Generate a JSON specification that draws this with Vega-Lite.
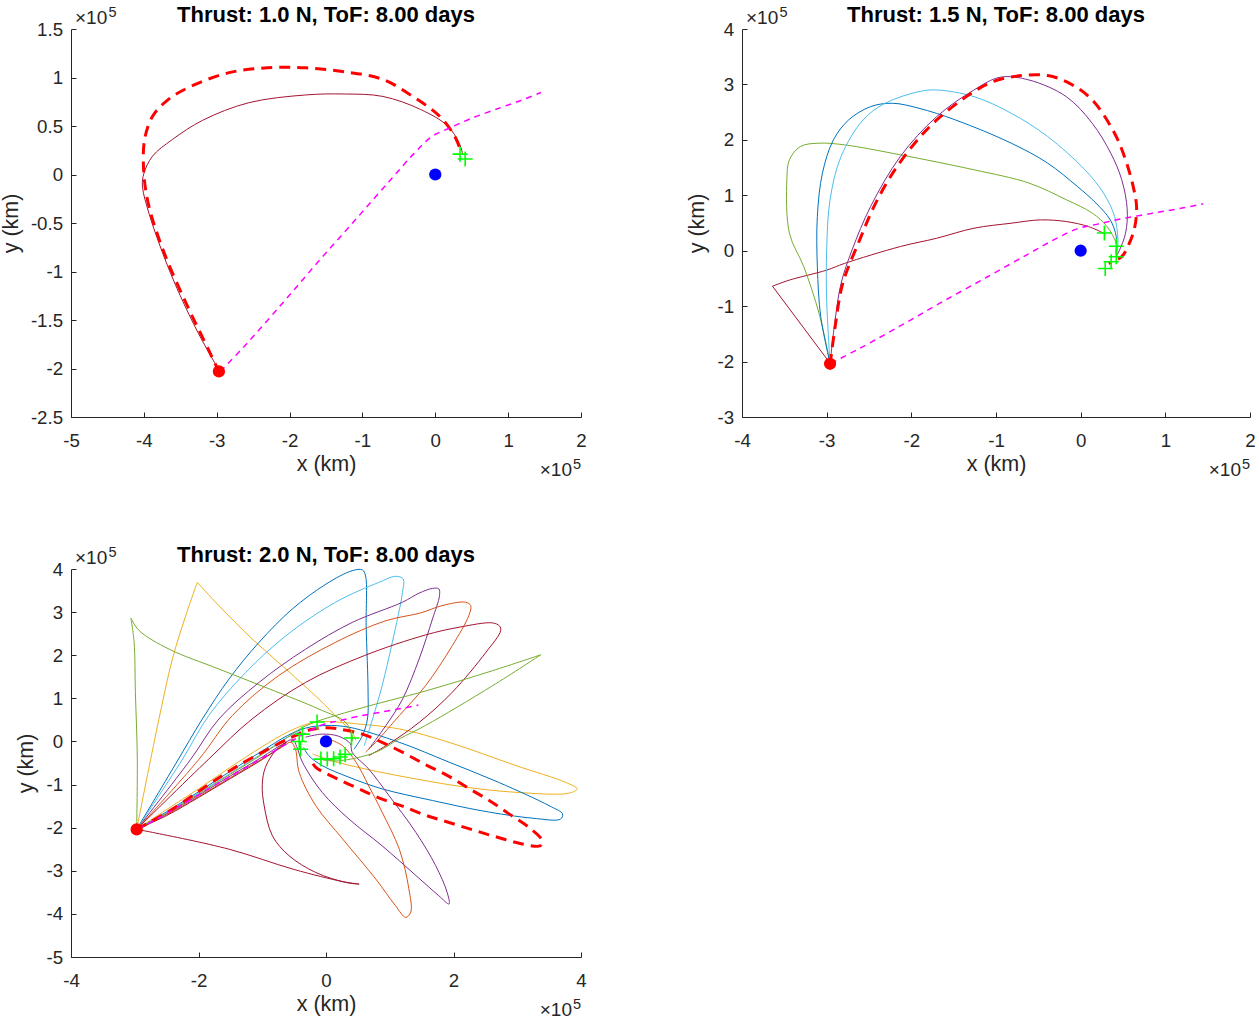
{
"$schema":"https://vega.github.io/schema/vega-lite/v6.json",
"background":"white",
"padding":{"left":0,"top":3,"right":5,"bottom":2},
"bounds":"flush",
"columns":2,
"spacing":{"row":152,"column":161},
"datasets":{
"lines":[
{"panel":1,"series":"g7","branch":"a","x":-2.96,"y":-2.03},{"panel":1,"series":"g7","branch":"a","x":-3.25,"y":-1.64},{"panel":1,"series":"g7","branch":"a","x":-3.5,"y":-1.25},{"panel":1,"series":"g7","branch":"a","x":-3.67,"y":-0.95},{"panel":1,"series":"g7","branch":"a","x":-3.82,"y":-0.65},{"panel":1,"series":"g7","branch":"a","x":-3.93,"y":-0.4},{"panel":1,"series":"g7","branch":"a","x":-4.02,"y":-0.12},{"panel":1,"series":"g7","branch":"a","x":-4.0,"y":0.01},{"panel":1,"series":"g7","branch":"a","x":-3.88,"y":0.19},{"panel":1,"series":"g7","branch":"a","x":-3.61,"y":0.36},{"panel":1,"series":"g7","branch":"a","x":-3.19,"y":0.56},{"panel":1,"series":"g7","branch":"a","x":-2.56,"y":0.74},{"panel":1,"series":"g7","branch":"a","x":-1.78,"y":0.82},{"panel":1,"series":"g7","branch":"a","x":-1.25,"y":0.83},{"panel":1,"series":"g7","branch":"a","x":-0.72,"y":0.805},{"panel":1,"series":"g7","branch":"a","x":-0.2,"y":0.67},{"panel":1,"series":"g7","branch":"a","x":0.17,"y":0.5},{"panel":1,"series":"g7","branch":"a","x":0.33,"y":0.32},{"panel":1,"series":"g7","branch":"a","x":0.38,"y":0.2},
{"panel":1,"series":"opt","branch":"a","x":-2.96,"y":-2.05},{"panel":1,"series":"opt","branch":"a","x":-3.11,"y":-1.81},{"panel":1,"series":"opt","branch":"a","x":-3.4,"y":-1.36},{"panel":1,"series":"opt","branch":"a","x":-3.72,"y":-0.81},{"panel":1,"series":"opt","branch":"a","x":-3.93,"y":-0.33},{"panel":1,"series":"opt","branch":"a","x":-4.0,"y":0.01},{"panel":1,"series":"opt","branch":"a","x":-3.99,"y":0.36},{"panel":1,"series":"opt","branch":"a","x":-3.88,"y":0.6},{"panel":1,"series":"opt","branch":"a","x":-3.67,"y":0.77},{"panel":1,"series":"opt","branch":"a","x":-3.35,"y":0.91},{"panel":1,"series":"opt","branch":"a","x":-2.83,"y":1.05},{"panel":1,"series":"opt","branch":"a","x":-2.3,"y":1.1},{"panel":1,"series":"opt","branch":"a","x":-1.78,"y":1.1},{"panel":1,"series":"opt","branch":"a","x":-1.25,"y":1.06},{"panel":1,"series":"opt","branch":"a","x":-0.72,"y":0.98},{"panel":1,"series":"opt","branch":"a","x":-0.3,"y":0.8},{"panel":1,"series":"opt","branch":"a","x":0.06,"y":0.6},{"panel":1,"series":"opt","branch":"a","x":0.27,"y":0.39},{"panel":1,"series":"opt","branch":"a","x":0.35,"y":0.24},
{"panel":1,"series":"moon","branch":"a","x":-2.95,"y":-2.03},{"panel":1,"series":"moon","branch":"a","x":-2.62,"y":-1.77},{"panel":1,"series":"moon","branch":"a","x":-2.1,"y":-1.33},{"panel":1,"series":"moon","branch":"a","x":-1.62,"y":-0.91},{"panel":1,"series":"moon","branch":"a","x":-1.1,"y":-0.47},{"panel":1,"series":"moon","branch":"a","x":-0.62,"y":-0.06},{"panel":1,"series":"moon","branch":"a","x":-0.3,"y":0.21},{"panel":1,"series":"moon","branch":"a","x":-0.05,"y":0.39},{"panel":1,"series":"moon","branch":"a","x":0.2,"y":0.48},{"panel":1,"series":"moon","branch":"a","x":0.5,"y":0.58},{"panel":1,"series":"moon","branch":"a","x":0.9,"y":0.69},{"panel":1,"series":"moon","branch":"a","x":1.2,"y":0.77},{"panel":1,"series":"moon","branch":"a","x":1.45,"y":0.845},

{"panel":2,"series":"g7","branch":"a","x":-2.96,"y":-2.03},{"panel":2,"series":"g7","branch":"a","x":-3.64,"y":-0.64},{"panel":2,"series":"g7","branch":"b","x":-3.64,"y":-0.64},{"panel":2,"series":"g7","branch":"b","x":-3.44,"y":-0.53},{"panel":2,"series":"g7","branch":"b","x":-3.0,"y":-0.35},{"panel":2,"series":"g7","branch":"b","x":-2.79,"y":-0.23},{"panel":2,"series":"g7","branch":"b","x":-2.13,"y":0.075},{"panel":2,"series":"g7","branch":"b","x":-1.7,"y":0.225},{"panel":2,"series":"g7","branch":"b","x":-1.26,"y":0.406},{"panel":2,"series":"g7","branch":"b","x":-0.82,"y":0.496},{"panel":2,"series":"g7","branch":"b","x":-0.475,"y":0.556},{"panel":2,"series":"g7","branch":"b","x":-0.17,"y":0.526},{"panel":2,"series":"g7","branch":"b","x":0.09,"y":0.436},{"panel":2,"series":"g7","branch":"b","x":0.267,"y":0.316},{"panel":2,"series":"g7","branch":"b","x":0.29,"y":0.285},
{"panel":2,"series":"g5","branch":"a","x":-2.96,"y":-2.03},{"panel":2,"series":"g5","branch":"a","x":-3.09,"y":-1.13},{"panel":2,"series":"g5","branch":"a","x":-3.27,"y":-0.29},{"panel":2,"series":"g5","branch":"a","x":-3.44,"y":0.316},{"panel":2,"series":"g5","branch":"a","x":-3.47,"y":1.28},{"panel":2,"series":"g5","branch":"a","x":-3.44,"y":1.64},{"panel":2,"series":"g5","branch":"a","x":-3.31,"y":1.88},{"panel":2,"series":"g5","branch":"a","x":-3.09,"y":1.94},{"panel":2,"series":"g5","branch":"a","x":-2.79,"y":1.91},{"panel":2,"series":"g5","branch":"a","x":-2.13,"y":1.73},{"panel":2,"series":"g5","branch":"a","x":-1.26,"y":1.46},{"panel":2,"series":"g5","branch":"a","x":-0.61,"y":1.22},{"panel":2,"series":"g5","branch":"a","x":-0.17,"y":0.92},{"panel":2,"series":"g5","branch":"a","x":0.136,"y":0.68},{"panel":2,"series":"g5","branch":"a","x":0.31,"y":0.44},{"panel":2,"series":"g5","branch":"a","x":0.42,"y":0.135},{"panel":2,"series":"g5","branch":"a","x":0.43,"y":0.045},
{"panel":2,"series":"g1","branch":"a","x":-2.96,"y":-2.03},{"panel":2,"series":"g1","branch":"a","x":-3.07,"y":-1.19},{"panel":2,"series":"g1","branch":"a","x":-3.11,"y":-0.29},{"panel":2,"series":"g1","branch":"a","x":-3.11,"y":0.62},{"panel":2,"series":"g1","branch":"a","x":-3.05,"y":1.4},{"panel":2,"series":"g1","branch":"a","x":-2.92,"y":2.0},{"panel":2,"series":"g1","branch":"a","x":-2.74,"y":2.36},{"panel":2,"series":"g1","branch":"a","x":-2.48,"y":2.6},{"panel":2,"series":"g1","branch":"a","x":-2.22,"y":2.66},{"panel":2,"series":"g1","branch":"a","x":-1.91,"y":2.57},{"panel":2,"series":"g1","branch":"a","x":-1.48,"y":2.36},{"panel":2,"series":"g1","branch":"a","x":-0.82,"y":1.94},{"panel":2,"series":"g1","branch":"a","x":-0.39,"y":1.58},{"panel":2,"series":"g1","branch":"a","x":-0.04,"y":1.16},{"panel":2,"series":"g1","branch":"a","x":0.18,"y":0.86},{"panel":2,"series":"g1","branch":"a","x":0.35,"y":0.556},{"panel":2,"series":"g1","branch":"a","x":0.42,"y":0.255},{"panel":2,"series":"g1","branch":"a","x":0.42,"y":-0.045},
{"panel":2,"series":"g6","branch":"a","x":-2.96,"y":-2.03},{"panel":2,"series":"g6","branch":"a","x":-3.0,"y":-0.89},{"panel":2,"series":"g6","branch":"a","x":-3.0,"y":0.015},{"panel":2,"series":"g6","branch":"a","x":-2.96,"y":0.92},{"panel":2,"series":"g6","branch":"a","x":-2.83,"y":1.7},{"panel":2,"series":"g6","branch":"a","x":-2.57,"y":2.36},{"panel":2,"series":"g6","branch":"a","x":-2.31,"y":2.66},{"panel":2,"series":"g6","branch":"a","x":-1.91,"y":2.87},{"panel":2,"series":"g6","branch":"a","x":-1.7,"y":2.9},{"panel":2,"series":"g6","branch":"a","x":-1.26,"y":2.78},{"panel":2,"series":"g6","branch":"a","x":-0.82,"y":2.48},{"panel":2,"series":"g6","branch":"a","x":-0.39,"y":2.06},{"panel":2,"series":"g6","branch":"a","x":0.05,"y":1.46},{"panel":2,"series":"g6","branch":"a","x":0.27,"y":1.04},{"panel":2,"series":"g6","branch":"a","x":0.4,"y":0.62},{"panel":2,"series":"g6","branch":"a","x":0.44,"y":0.195},{"panel":2,"series":"g6","branch":"a","x":0.43,"y":-0.045},
{"panel":2,"series":"g4","branch":"a","x":-2.96,"y":-2.03},{"panel":2,"series":"g4","branch":"a","x":-2.9,"y":-1.25},{"panel":2,"series":"g4","branch":"a","x":-2.83,"y":-0.59},{"panel":2,"series":"g4","branch":"a","x":-2.7,"y":0.014},{"panel":2,"series":"g4","branch":"a","x":-2.48,"y":0.8},{"panel":2,"series":"g4","branch":"a","x":-2.13,"y":1.7},{"panel":2,"series":"g4","branch":"a","x":-1.7,"y":2.42},{"panel":2,"series":"g4","branch":"a","x":-1.26,"y":2.9},{"panel":2,"series":"g4","branch":"a","x":-0.95,"y":3.13},{"panel":2,"series":"g4","branch":"a","x":-0.61,"y":3.08},{"panel":2,"series":"g4","branch":"a","x":-0.17,"y":2.78},{"panel":2,"series":"g4","branch":"a","x":0.136,"y":2.3},{"panel":2,"series":"g4","branch":"a","x":0.355,"y":1.76},{"panel":2,"series":"g4","branch":"a","x":0.485,"y":1.28},{"panel":2,"series":"g4","branch":"a","x":0.55,"y":0.74},{"panel":2,"series":"g4","branch":"a","x":0.53,"y":0.316},{"panel":2,"series":"g4","branch":"a","x":0.46,"y":0.015},{"panel":2,"series":"g4","branch":"a","x":0.42,"y":-0.106},
{"panel":2,"series":"opt","branch":"a","x":-2.96,"y":-2.06},{"panel":2,"series":"opt","branch":"a","x":-2.9,"y":-1.37},{"panel":2,"series":"opt","branch":"a","x":-2.81,"y":-0.59},{"panel":2,"series":"opt","branch":"a","x":-2.61,"y":0.195},{"panel":2,"series":"opt","branch":"a","x":-2.44,"y":0.8},{"panel":2,"series":"opt","branch":"a","x":-2.22,"y":1.4},{"panel":2,"series":"opt","branch":"a","x":-1.96,"y":1.94},{"panel":2,"series":"opt","branch":"a","x":-1.7,"y":2.36},{"panel":2,"series":"opt","branch":"a","x":-1.35,"y":2.78},{"panel":2,"series":"opt","branch":"a","x":-1.04,"y":3.05},{"panel":2,"series":"opt","branch":"a","x":-0.7,"y":3.16},{"panel":2,"series":"opt","branch":"a","x":-0.39,"y":3.16},{"panel":2,"series":"opt","branch":"a","x":-0.13,"y":3.02},{"panel":2,"series":"opt","branch":"a","x":0.136,"y":2.72},{"panel":2,"series":"opt","branch":"a","x":0.4,"y":2.12},{"panel":2,"series":"opt","branch":"a","x":0.53,"y":1.64},{"panel":2,"series":"opt","branch":"a","x":0.62,"y":1.16},{"panel":2,"series":"opt","branch":"a","x":0.66,"y":0.8},{"panel":2,"series":"opt","branch":"a","x":0.64,"y":0.436},{"panel":2,"series":"opt","branch":"a","x":0.575,"y":0.135},{"panel":2,"series":"opt","branch":"a","x":0.485,"y":-0.106},{"panel":2,"series":"opt","branch":"a","x":0.33,"y":-0.226},
{"panel":2,"series":"moon","branch":"a","x":-2.95,"y":-2.03},{"panel":2,"series":"moon","branch":"a","x":-2.62,"y":-1.77},{"panel":2,"series":"moon","branch":"a","x":-2.1,"y":-1.33},{"panel":2,"series":"moon","branch":"a","x":-1.62,"y":-0.91},{"panel":2,"series":"moon","branch":"a","x":-1.1,"y":-0.47},{"panel":2,"series":"moon","branch":"a","x":-0.62,"y":-0.06},{"panel":2,"series":"moon","branch":"a","x":-0.3,"y":0.21},{"panel":2,"series":"moon","branch":"a","x":-0.05,"y":0.39},{"panel":2,"series":"moon","branch":"a","x":0.2,"y":0.48},{"panel":2,"series":"moon","branch":"a","x":0.5,"y":0.58},{"panel":2,"series":"moon","branch":"a","x":0.9,"y":0.69},{"panel":2,"series":"moon","branch":"a","x":1.2,"y":0.77},{"panel":2,"series":"moon","branch":"a","x":1.45,"y":0.845},

{"panel":3,"series":"g3","branch":"a","x":-2.97,"y":-2.04},{"panel":3,"series":"g3","branch":"a","x":-2.75,"y":-0.41},{"panel":3,"series":"g3","branch":"a","x":-2.58,"y":0.8},{"panel":3,"series":"g3","branch":"a","x":-2.41,"y":1.91},{"panel":3,"series":"g3","branch":"a","x":-2.2,"y":2.92},{"panel":3,"series":"g3","branch":"a","x":-2.02,"y":3.69},{"panel":3,"series":"g3","branch":"c","x":-2.02,"y":3.69},{"panel":3,"series":"g3","branch":"c","x":-1.68,"y":3.15},{"panel":3,"series":"g3","branch":"c","x":-1.16,"y":2.38},{"panel":3,"series":"g3","branch":"c","x":-0.63,"y":1.68},{"panel":3,"series":"g3","branch":"c","x":-0.11,"y":0.98},{"panel":3,"series":"g3","branch":"c","x":0.2,"y":0.52},{"panel":3,"series":"g3","branch":"c","x":0.41,"y":0.21},{"panel":3,"series":"g3","branch":"c","x":0.47,"y":0.02},
{"panel":3,"series":"g3","branch":"b","x":-2.97,"y":-2.04},{"panel":3,"series":"g3","branch":"b","x":-2.5,"y":-1.58},{"panel":3,"series":"g3","branch":"b","x":-2.0,"y":-1.1},{"panel":3,"series":"g3","branch":"b","x":-1.5,"y":-0.6},{"panel":3,"series":"g3","branch":"b","x":-1.0,"y":-0.12},{"panel":3,"series":"g3","branch":"b","x":-0.6,"y":0.22},{"panel":3,"series":"g3","branch":"b","x":-0.3,"y":0.4},{"panel":3,"series":"g3","branch":"b","x":-0.06,"y":0.46},{"panel":3,"series":"g3","branch":"b","x":0.47,"y":0.41},{"panel":3,"series":"g3","branch":"b","x":1.15,"y":0.29},{"panel":3,"series":"g3","branch":"b","x":1.93,"y":-0.02},{"panel":3,"series":"g3","branch":"b","x":2.98,"y":-0.56},{"panel":3,"series":"g3","branch":"b","x":3.76,"y":-0.95},{"panel":3,"series":"g3","branch":"b","x":3.94,"y":-1.1},{"panel":3,"series":"g3","branch":"b","x":3.81,"y":-1.2},{"panel":3,"series":"g3","branch":"b","x":2.98,"y":-1.18},{"panel":3,"series":"g3","branch":"b","x":2.19,"y":-1.06},{"panel":3,"series":"g3","branch":"b","x":1.41,"y":-0.87},{"panel":3,"series":"g3","branch":"b","x":0.62,"y":-0.64},{"panel":3,"series":"g3","branch":"b","x":0.1,"y":-0.45},{"panel":3,"series":"g3","branch":"b","x":-0.21,"y":-0.29},
{"panel":3,"series":"g1","branch":"a","x":-2.97,"y":-2.04},{"panel":3,"series":"g1","branch":"a","x":-2.35,"y":-0.5},{"panel":3,"series":"g1","branch":"a","x":-1.94,"y":0.52},{"panel":3,"series":"g1","branch":"a","x":-1.52,"y":1.45},{"panel":3,"series":"g1","branch":"a","x":-1.05,"y":2.3},{"panel":3,"series":"g1","branch":"a","x":-0.53,"y":3.07},{"panel":3,"series":"g1","branch":"a","x":0.0,"y":3.65},{"panel":3,"series":"g1","branch":"a","x":0.41,"y":3.96},{"panel":3,"series":"g1","branch":"a","x":0.57,"y":3.98},{"panel":3,"series":"g1","branch":"a","x":0.62,"y":3.84},{"panel":3,"series":"g1","branch":"a","x":0.63,"y":2.68},{"panel":3,"series":"g1","branch":"a","x":0.66,"y":1.14},{"panel":3,"series":"g1","branch":"a","x":0.65,"y":0.52},{"panel":3,"series":"g1","branch":"a","x":0.57,"y":0.13},{"panel":3,"series":"g1","branch":"a","x":0.44,"y":-0.18},
{"panel":3,"series":"g1","branch":"b","x":-2.97,"y":-2.04},{"panel":3,"series":"g1","branch":"b","x":-2.5,"y":-1.63},{"panel":3,"series":"g1","branch":"b","x":-2.0,"y":-1.17},{"panel":3,"series":"g1","branch":"b","x":-1.5,"y":-0.69},{"panel":3,"series":"g1","branch":"b","x":-1.0,"y":-0.22},{"panel":3,"series":"g1","branch":"b","x":-0.6,"y":0.14},{"panel":3,"series":"g1","branch":"b","x":-0.32,"y":0.31},{"panel":3,"series":"g1","branch":"b","x":0.0,"y":0.37},{"panel":3,"series":"g1","branch":"b","x":0.36,"y":0.33},{"panel":3,"series":"g1","branch":"b","x":1.15,"y":-0.02},{"panel":3,"series":"g1","branch":"b","x":1.93,"y":-0.48},{"panel":3,"series":"g1","branch":"b","x":2.71,"y":-0.95},{"panel":3,"series":"g1","branch":"b","x":3.5,"y":-1.49},{"panel":3,"series":"g1","branch":"b","x":3.71,"y":-1.68},{"panel":3,"series":"g1","branch":"b","x":3.68,"y":-1.8},{"panel":3,"series":"g1","branch":"b","x":3.24,"y":-1.78},{"panel":3,"series":"g1","branch":"b","x":2.45,"y":-1.61},{"panel":3,"series":"g1","branch":"b","x":1.67,"y":-1.37},{"panel":3,"series":"g1","branch":"b","x":0.88,"y":-1.1},{"panel":3,"series":"g1","branch":"b","x":0.36,"y":-0.83},{"panel":3,"series":"g1","branch":"b","x":-0.06,"y":-0.56},{"panel":3,"series":"g1","branch":"b","x":-0.27,"y":-0.33},{"panel":3,"series":"g1","branch":"b","x":-0.35,"y":-0.14},
{"panel":3,"series":"g6","branch":"a","x":-2.97,"y":-2.04},{"panel":3,"series":"g6","branch":"a","x":-2.25,"y":-0.41},{"panel":3,"series":"g6","branch":"a","x":-1.84,"y":0.6},{"panel":3,"series":"g6","branch":"a","x":-1.26,"y":1.6},{"panel":3,"series":"g6","branch":"a","x":-0.63,"y":2.45},{"panel":3,"series":"g6","branch":"a","x":0.15,"y":3.23},{"panel":3,"series":"g6","branch":"a","x":0.83,"y":3.69},{"panel":3,"series":"g6","branch":"a","x":1.09,"y":3.83},{"panel":3,"series":"g6","branch":"a","x":1.21,"y":3.77},{"panel":3,"series":"g6","branch":"a","x":1.2,"y":3.46},{"panel":3,"series":"g6","branch":"a","x":1.04,"y":2.3},{"panel":3,"series":"g6","branch":"a","x":0.88,"y":1.29},{"panel":3,"series":"g6","branch":"a","x":0.73,"y":0.52},{"panel":3,"series":"g6","branch":"a","x":0.6,"y":-0.1},
{"panel":3,"series":"g6","branch":"b","x":-2.97,"y":-2.04},{"panel":3,"series":"g6","branch":"b","x":-2.5,"y":-1.65},{"panel":3,"series":"g6","branch":"b","x":-2.0,"y":-1.2},{"panel":3,"series":"g6","branch":"b","x":-1.5,"y":-0.74},{"panel":3,"series":"g6","branch":"b","x":-1.0,"y":-0.28},{"panel":3,"series":"g6","branch":"b","x":-0.6,"y":0.1},{"panel":3,"series":"g6","branch":"b","x":-0.4,"y":0.24},
{"panel":3,"series":"g4","branch":"a","x":-2.97,"y":-2.04},{"panel":3,"series":"g4","branch":"a","x":-2.12,"y":-0.41},{"panel":3,"series":"g4","branch":"a","x":-1.68,"y":0.52},{"panel":3,"series":"g4","branch":"a","x":-1.05,"y":1.37},{"panel":3,"series":"g4","branch":"a","x":-0.32,"y":2.14},{"panel":3,"series":"g4","branch":"a","x":0.41,"y":2.76},{"panel":3,"series":"g4","branch":"a","x":1.2,"y":3.23},{"panel":3,"series":"g4","branch":"a","x":1.46,"y":3.44},{"panel":3,"series":"g4","branch":"a","x":1.67,"y":3.55},{"panel":3,"series":"g4","branch":"a","x":1.77,"y":3.54},{"panel":3,"series":"g4","branch":"a","x":1.78,"y":3.38},{"panel":3,"series":"g4","branch":"a","x":1.67,"y":2.84},{"panel":3,"series":"g4","branch":"a","x":1.46,"y":1.91},{"panel":3,"series":"g4","branch":"a","x":1.2,"y":0.98},{"panel":3,"series":"g4","branch":"a","x":0.94,"y":0.37},{"panel":3,"series":"g4","branch":"a","x":0.67,"y":-0.18},
{"panel":3,"series":"g4","branch":"b","x":-2.97,"y":-2.04},{"panel":3,"series":"g4","branch":"b","x":-2.5,"y":-1.68},{"panel":3,"series":"g4","branch":"b","x":-2.0,"y":-1.25},{"panel":3,"series":"g4","branch":"b","x":-1.5,"y":-0.8},{"panel":3,"series":"g4","branch":"b","x":-1.0,"y":-0.36},{"panel":3,"series":"g4","branch":"b","x":-0.7,"y":-0.08},{"panel":3,"series":"g4","branch":"b","x":-0.52,"y":0.04},{"panel":3,"series":"g4","branch":"b","x":-0.46,"y":-0.12},{"panel":3,"series":"g4","branch":"b","x":-0.37,"y":-0.48},{"panel":3,"series":"g4","branch":"b","x":-0.06,"y":-1.18},{"panel":3,"series":"g4","branch":"b","x":0.36,"y":-1.8},{"panel":3,"series":"g4","branch":"b","x":0.88,"y":-2.42},{"panel":3,"series":"g4","branch":"b","x":1.41,"y":-3.11},{"panel":3,"series":"g4","branch":"b","x":1.77,"y":-3.58},{"panel":3,"series":"g4","branch":"b","x":1.93,"y":-3.77},{"panel":3,"series":"g4","branch":"b","x":1.9,"y":-3.5},{"panel":3,"series":"g4","branch":"b","x":1.72,"y":-2.88},{"panel":3,"series":"g4","branch":"b","x":1.41,"y":-2.11},{"panel":3,"series":"g4","branch":"b","x":0.99,"y":-1.26},{"panel":3,"series":"g4","branch":"b","x":0.67,"y":-0.64},{"panel":3,"series":"g4","branch":"b","x":0.41,"y":-0.25},{"panel":3,"series":"g4","branch":"b","x":0.38,"y":-0.05},{"panel":3,"series":"g4","branch":"b","x":0.2,"y":0.12},{"panel":3,"series":"g4","branch":"b","x":-0.06,"y":0.17},{"panel":3,"series":"g4","branch":"b","x":-0.32,"y":0.1},
{"panel":3,"series":"g2","branch":"a","x":-2.97,"y":-2.04},{"panel":3,"series":"g2","branch":"a","x":-1.99,"y":-0.41},{"panel":3,"series":"g2","branch":"a","x":-1.47,"y":0.6},{"panel":3,"series":"g2","branch":"a","x":-0.74,"y":1.53},{"panel":3,"series":"g2","branch":"a","x":0.15,"y":2.3},{"panel":3,"series":"g2","branch":"a","x":0.94,"y":2.8},{"panel":3,"series":"g2","branch":"a","x":1.48,"y":2.98},{"panel":3,"series":"g2","branch":"a","x":1.82,"y":3.15},{"panel":3,"series":"g2","branch":"a","x":2.19,"y":3.23},{"panel":3,"series":"g2","branch":"a","x":2.27,"y":3.15},{"panel":3,"series":"g2","branch":"a","x":2.24,"y":2.92},{"panel":3,"series":"g2","branch":"a","x":1.98,"y":2.22},{"panel":3,"series":"g2","branch":"a","x":1.56,"y":1.29},{"panel":3,"series":"g2","branch":"a","x":1.15,"y":0.6},{"panel":3,"series":"g2","branch":"a","x":0.78,"y":-0.02},{"panel":3,"series":"g2","branch":"a","x":0.62,"y":-0.25},
{"panel":3,"series":"g2","branch":"b","x":-2.97,"y":-2.04},{"panel":3,"series":"g2","branch":"b","x":-2.5,"y":-1.7},{"panel":3,"series":"g2","branch":"b","x":-2.0,"y":-1.28},{"panel":3,"series":"g2","branch":"b","x":-1.5,"y":-0.84},{"panel":3,"series":"g2","branch":"b","x":-1.0,"y":-0.4},{"panel":3,"series":"g2","branch":"b","x":-0.7,"y":-0.14},{"panel":3,"series":"g2","branch":"b","x":-0.55,"y":-0.02},{"panel":3,"series":"g2","branch":"b","x":-0.48,"y":-0.18},{"panel":3,"series":"g2","branch":"b","x":-0.42,"y":-0.72},{"panel":3,"series":"g2","branch":"b","x":-0.16,"y":-1.49},{"panel":3,"series":"g2","branch":"b","x":0.26,"y":-2.26},{"panel":3,"series":"g2","branch":"b","x":0.78,"y":-3.19},{"panel":3,"series":"g2","branch":"b","x":1.09,"y":-3.81},{"panel":3,"series":"g2","branch":"b","x":1.25,"y":-4.08},{"panel":3,"series":"g2","branch":"b","x":1.33,"y":-3.96},{"panel":3,"series":"g2","branch":"b","x":1.3,"y":-3.42},{"panel":3,"series":"g2","branch":"b","x":1.15,"y":-2.5},{"panel":3,"series":"g2","branch":"b","x":0.88,"y":-1.64},{"panel":3,"series":"g2","branch":"b","x":0.67,"y":-1.03},{"panel":3,"series":"g2","branch":"b","x":0.47,"y":-0.48},{"panel":3,"series":"g2","branch":"b","x":0.26,"y":-0.1},{"panel":3,"series":"g2","branch":"b","x":0.05,"y":0.05},
{"panel":3,"series":"g7","branch":"a","x":-2.97,"y":-2.04},{"panel":3,"series":"g7","branch":"a","x":-1.84,"y":-0.41},{"panel":3,"series":"g7","branch":"a","x":-1.16,"y":0.52},{"panel":3,"series":"g7","branch":"a","x":-0.32,"y":1.37},{"panel":3,"series":"g7","branch":"a","x":0.6,"y":1.99},{"panel":3,"series":"g7","branch":"a","x":1.56,"y":2.47},{"panel":3,"series":"g7","branch":"a","x":2.09,"y":2.65},{"panel":3,"series":"g7","branch":"a","x":2.61,"y":2.75},{"panel":3,"series":"g7","branch":"a","x":2.72,"y":2.68},{"panel":3,"series":"g7","branch":"a","x":2.74,"y":2.57},{"panel":3,"series":"g7","branch":"a","x":2.51,"y":2.07},{"panel":3,"series":"g7","branch":"a","x":1.98,"y":1.14},{"panel":3,"series":"g7","branch":"a","x":1.46,"y":0.44},{"panel":3,"series":"g7","branch":"a","x":0.94,"y":-0.1},{"panel":3,"series":"g7","branch":"a","x":0.67,"y":-0.33},
{"panel":3,"series":"g7","branch":"b","x":-2.97,"y":-2.04},{"panel":3,"series":"g7","branch":"b","x":-2.5,"y":-1.72},{"panel":3,"series":"g7","branch":"b","x":-2.0,"y":-1.3},{"panel":3,"series":"g7","branch":"b","x":-1.5,"y":-0.86},{"panel":3,"series":"g7","branch":"b","x":-1.0,"y":-0.42},{"panel":3,"series":"g7","branch":"b","x":-0.7,"y":-0.12},{"panel":3,"series":"g7","branch":"b","x":-0.62,"y":-0.02},{"panel":3,"series":"g7","branch":"b","x":-0.79,"y":-0.21},{"panel":3,"series":"g7","branch":"b","x":-0.95,"y":-0.6},{"panel":3,"series":"g7","branch":"b","x":-1.0,"y":-1.0},{"panel":3,"series":"g7","branch":"b","x":-0.97,"y":-1.49},{"panel":3,"series":"g7","branch":"b","x":-0.84,"y":-2.19},{"panel":3,"series":"g7","branch":"b","x":-0.58,"y":-2.65},{"panel":3,"series":"g7","branch":"b","x":-0.16,"y":-3.04},{"panel":3,"series":"g7","branch":"b","x":0.31,"y":-3.27},{"panel":3,"series":"g7","branch":"b","x":0.52,"y":-3.31},{"panel":3,"series":"g7","branch":"d","x":0.52,"y":-3.31},{"panel":3,"series":"g7","branch":"d","x":0.26,"y":-3.25},{"panel":3,"series":"g7","branch":"d","x":-0.5,"y":-2.97},{"panel":3,"series":"g7","branch":"d","x":-1.52,"y":-2.5},{"panel":3,"series":"g7","branch":"d","x":-2.72,"y":-2.11},{"panel":3,"series":"g7","branch":"d","x":-2.97,"y":-2.04},
{"panel":3,"series":"g5","branch":"a","x":-2.97,"y":-2.04},{"panel":3,"series":"g5","branch":"a","x":-2.96,"y":-0.41},{"panel":3,"series":"g5","branch":"a","x":-2.99,"y":1.14},{"panel":3,"series":"g5","branch":"a","x":-3.01,"y":2.3},{"panel":3,"series":"g5","branch":"a","x":-3.06,"y":2.86},{"panel":3,"series":"g5","branch":"c","x":-3.06,"y":2.86},{"panel":3,"series":"g5","branch":"c","x":-2.93,"y":2.57},{"panel":3,"series":"g5","branch":"c","x":-2.46,"y":2.14},{"panel":3,"series":"g5","branch":"c","x":-1.68,"y":1.68},{"panel":3,"series":"g5","branch":"c","x":-0.89,"y":1.22},{"panel":3,"series":"g5","branch":"c","x":-0.11,"y":0.75},{"panel":3,"series":"g5","branch":"c","x":0.31,"y":0.44},{"panel":3,"series":"g5","branch":"c","x":0.41,"y":0.13},{"panel":3,"series":"g5","branch":"c","x":0.42,"y":0.0},
{"panel":3,"series":"g5","branch":"b","x":-2.97,"y":-2.04},{"panel":3,"series":"g5","branch":"b","x":-2.5,"y":-1.66},{"panel":3,"series":"g5","branch":"b","x":-2.0,"y":-1.22},{"panel":3,"series":"g5","branch":"b","x":-1.5,"y":-0.76},{"panel":3,"series":"g5","branch":"b","x":-1.0,"y":-0.3},{"panel":3,"series":"g5","branch":"b","x":-0.6,"y":0.1},{"panel":3,"series":"g5","branch":"b","x":-0.32,"y":0.36},{"panel":3,"series":"g5","branch":"b","x":0.52,"y":0.76},{"panel":3,"series":"g5","branch":"b","x":1.56,"y":1.17},{"panel":3,"series":"g5","branch":"b","x":2.61,"y":1.64},{"panel":3,"series":"g5","branch":"b","x":3.37,"y":2.01},{"panel":3,"series":"g5","branch":"e","x":3.37,"y":2.01},{"panel":3,"series":"g5","branch":"e","x":2.61,"y":1.29},{"panel":3,"series":"g5","branch":"e","x":1.56,"y":0.37},{"panel":3,"series":"g5","branch":"e","x":1.15,"y":0.06},{"panel":3,"series":"g5","branch":"e","x":0.78,"y":-0.25},{"panel":3,"series":"g5","branch":"e","x":0.2,"y":-0.45},{"panel":3,"series":"g5","branch":"e","x":-0.05,"y":-0.43},
{"panel":3,"series":"opt","branch":"a","x":-2.97,"y":-2.04},{"panel":3,"series":"opt","branch":"a","x":-2.4,"y":-1.56},{"panel":3,"series":"opt","branch":"a","x":-1.84,"y":-1.0},{"panel":3,"series":"opt","branch":"a","x":-1.52,"y":-0.69},{"panel":3,"series":"opt","branch":"a","x":-1.21,"y":-0.42},{"panel":3,"series":"opt","branch":"a","x":-0.87,"y":-0.15},{"panel":3,"series":"opt","branch":"a","x":-0.55,"y":0.09},{"panel":3,"series":"opt","branch":"a","x":-0.25,"y":0.27},{"panel":3,"series":"opt","branch":"a","x":0.0,"y":0.32},{"panel":3,"series":"opt","branch":"a","x":0.2,"y":0.29},{"panel":3,"series":"opt","branch":"a","x":0.57,"y":0.17},{"panel":3,"series":"opt","branch":"a","x":0.88,"y":-0.02},{"panel":3,"series":"opt","branch":"a","x":1.25,"y":-0.29},{"panel":3,"series":"opt","branch":"a","x":1.59,"y":-0.56},{"panel":3,"series":"opt","branch":"a","x":1.93,"y":-0.81},{"panel":3,"series":"opt","branch":"a","x":2.24,"y":-1.09},{"panel":3,"series":"opt","branch":"a","x":2.56,"y":-1.37},{"panel":3,"series":"opt","branch":"a","x":2.87,"y":-1.68},{"panel":3,"series":"opt","branch":"a","x":3.18,"y":-1.99},{"panel":3,"series":"opt","branch":"a","x":3.39,"y":-2.3},{"panel":3,"series":"opt","branch":"a","x":3.36,"y":-2.42},{"panel":3,"series":"opt","branch":"a","x":3.03,"y":-2.36},{"panel":3,"series":"opt","branch":"a","x":2.66,"y":-2.21},{"panel":3,"series":"opt","branch":"a","x":2.3,"y":-2.05},{"panel":3,"series":"opt","branch":"a","x":1.93,"y":-1.88},{"panel":3,"series":"opt","branch":"a","x":1.56,"y":-1.71},{"panel":3,"series":"opt","branch":"a","x":1.2,"y":-1.5},{"panel":3,"series":"opt","branch":"a","x":0.88,"y":-1.34},{"panel":3,"series":"opt","branch":"a","x":0.52,"y":-1.1},{"panel":3,"series":"opt","branch":"a","x":0.18,"y":-0.87},{"panel":3,"series":"opt","branch":"a","x":-0.16,"y":-0.6},{"panel":3,"series":"opt","branch":"a","x":-0.22,"y":-0.48},
{"panel":3,"series":"moon","branch":"a","x":-2.95,"y":-2.03},{"panel":3,"series":"moon","branch":"a","x":-2.62,"y":-1.77},{"panel":3,"series":"moon","branch":"a","x":-2.1,"y":-1.33},{"panel":3,"series":"moon","branch":"a","x":-1.62,"y":-0.91},{"panel":3,"series":"moon","branch":"a","x":-1.1,"y":-0.47},{"panel":3,"series":"moon","branch":"a","x":-0.62,"y":-0.06},{"panel":3,"series":"moon","branch":"a","x":-0.3,"y":0.21},{"panel":3,"series":"moon","branch":"a","x":-0.05,"y":0.39},{"panel":3,"series":"moon","branch":"a","x":0.2,"y":0.48},{"panel":3,"series":"moon","branch":"a","x":0.5,"y":0.58},{"panel":3,"series":"moon","branch":"a","x":0.9,"y":0.69},{"panel":3,"series":"moon","branch":"a","x":1.2,"y":0.77},{"panel":3,"series":"moon","branch":"a","x":1.45,"y":0.845}
],
"points":[
{"panel":1,"kind":"earth","x":0,"y":0},{"panel":1,"kind":"start","x":-2.97,"y":-2.03},{"panel":1,"kind":"end","x":0.34,"y":0.21},{"panel":1,"kind":"end","x":0.41,"y":0.16},
{"panel":2,"kind":"earth","x":0,"y":0},{"panel":2,"kind":"start","x":-2.96,"y":-2.04},{"panel":2,"kind":"end","x":0.28,"y":0.32},{"panel":2,"kind":"end","x":0.42,"y":0.08},{"panel":2,"kind":"end","x":0.42,"y":-0.11},{"panel":2,"kind":"end","x":0.36,"y":-0.2},{"panel":2,"kind":"end","x":0.29,"y":-0.32},
{"panel":3,"kind":"earth","x":0,"y":0},{"panel":3,"kind":"start","x":-2.97,"y":-2.04},{"panel":3,"kind":"end","x":-0.14,"y":0.45},{"panel":3,"kind":"end","x":-0.37,"y":0.17},{"panel":3,"kind":"end","x":-0.42,"y":0.0},{"panel":3,"kind":"end","x":-0.4,"y":-0.18},{"panel":3,"kind":"end","x":0.4,"y":0.08},{"panel":3,"kind":"end","x":-0.08,"y":-0.41},{"panel":3,"kind":"end","x":0.02,"y":-0.41},{"panel":3,"kind":"end","x":0.12,"y":-0.4},{"panel":3,"kind":"end","x":0.22,"y":-0.36},{"panel":3,"kind":"end","x":0.3,"y":-0.3}
]
},
"concat":[
{"width":510,"height":388,"title":"Thrust: 1.0 N, ToF: 8.00 days",
 "layer":[
  {"data":{"name":"lines"},"transform":[{"filter":"datum.panel==1 && datum.series!='opt' && datum.series!='moon'"}],"mark":{"type":"line","strokeWidth":1,"interpolate":"catmull-rom"},"encoding":{
   "x":{"field":"x","type":"quantitative","scale":{"domain":[-5,2],"nice":false,"zero":false},"axis":{"values":[-5,-4,-3,-2,-1,0,1,2],"title":"x (km)","labelExpr":"toString(datum.value)"}},
   "y":{"field":"y","type":"quantitative","scale":{"domain":[-2.5,1.5],"nice":false,"zero":false},"axis":{"values":[-2.5,-2,-1.5,-1,-0.5,0,0.5,1,1.5],"title":"y (km)","labelExpr":"toString(datum.value)"}},
   "color":{"field":"series","type":"nominal","scale":{"domain":["g1","g2","g3","g4","g5","g6","g7"],"range":["#0072BD","#D95319","#EDB120","#7E2F8E","#77AC30","#4DBEEE","#A2142F"]},"legend":null},"detail":{"field":"branch"},"order":{"value":null}}},
  {"data":{"name":"lines"},"transform":[{"filter":"datum.panel==1 && datum.series=='opt'"}],"mark":{"type":"line","color":"#FF0000","strokeWidth":3,"strokeDash":[11,7],"interpolate":"catmull-rom"},"encoding":{"x":{"field":"x","type":"quantitative"},"y":{"field":"y","type":"quantitative"},"order":{"value":null}}},
  {"data":{"name":"lines"},"transform":[{"filter":"datum.panel==1 && datum.series=='moon'"}],"mark":{"type":"line","color":"#FF00FF","strokeWidth":1.5,"strokeDash":[6,5],"interpolate":"catmull-rom"},"encoding":{"x":{"field":"x","type":"quantitative"},"y":{"field":"y","type":"quantitative"},"order":{"value":null}}},
  {"data":{"name":"points"},"transform":[{"filter":"datum.panel==1 && datum.kind=='earth'"}],"mark":{"type":"point","shape":"circle","filled":true,"color":"#0000FF","size":150,"opacity":1},"encoding":{"x":{"field":"x","type":"quantitative"},"y":{"field":"y","type":"quantitative"}}},
  {"data":{"name":"points"},"transform":[{"filter":"datum.panel==1 && datum.kind=='start'"}],"mark":{"type":"point","shape":"circle","filled":true,"color":"#FF0000","size":150,"opacity":1},"encoding":{"x":{"field":"x","type":"quantitative"},"y":{"field":"y","type":"quantitative"}}},
  {"data":{"name":"points"},"transform":[{"filter":"datum.panel==1 && datum.kind=='end'"}],"mark":{"type":"point","shape":"M-1,0L1,0M0,-1L0,1","filled":false,"color":"#00FF00","strokeWidth":1.6,"size":225,"opacity":1},"encoding":{"x":{"field":"x","type":"quantitative"},"y":{"field":"y","type":"quantitative"}}},
  {"data":{"values":[{}]},"mark":{"type":"text","text":"×10","align":"left","baseline":"alphabetic","dx":4,"dy":-5.5,"fontSize":19,"color":"#262626"},"encoding":{"x":{"datum":-5,"type":"quantitative"},"y":{"datum":1.5,"type":"quantitative"}}},
  {"data":{"values":[{}]},"mark":{"type":"text","text":"5","align":"left","baseline":"alphabetic","dx":37.5,"dy":-12.5,"fontSize":14.5,"color":"#262626"},"encoding":{"x":{"datum":-5,"type":"quantitative"},"y":{"datum":1.5,"type":"quantitative"}}},
  {"data":{"values":[{}]},"mark":{"type":"text","text":"×10","align":"right","baseline":"alphabetic","dx":-9,"dy":58.7,"fontSize":19,"color":"#262626"},"encoding":{"x":{"datum":2,"type":"quantitative"},"y":{"datum":-2.5,"type":"quantitative"}}},
  {"data":{"values":[{}]},"mark":{"type":"text","text":"5","align":"right","baseline":"alphabetic","dx":0,"dy":52,"fontSize":14.5,"color":"#262626"},"encoding":{"x":{"datum":2,"type":"quantitative"},"y":{"datum":-2.5,"type":"quantitative"}}}
 ]},
{"width":508,"height":388,"title":"Thrust: 1.5 N, ToF: 8.00 days",
 "layer":[
  {"data":{"name":"lines"},"transform":[{"filter":"datum.panel==2 && datum.series!='opt' && datum.series!='moon'"}],"mark":{"type":"line","strokeWidth":1,"interpolate":"catmull-rom"},"encoding":{
   "x":{"field":"x","type":"quantitative","scale":{"domain":[-4,2],"nice":false,"zero":false},"axis":{"values":[-4,-3,-2,-1,0,1,2],"title":"x (km)","labelExpr":"toString(datum.value)"}},
   "y":{"field":"y","type":"quantitative","scale":{"domain":[-3,4],"nice":false,"zero":false},"axis":{"values":[-3,-2,-1,0,1,2,3,4],"title":"y (km)","labelExpr":"toString(datum.value)"}},
   "color":{"field":"series","type":"nominal","scale":{"domain":["g1","g2","g3","g4","g5","g6","g7"],"range":["#0072BD","#D95319","#EDB120","#7E2F8E","#77AC30","#4DBEEE","#A2142F"]},"legend":null},"detail":{"field":"branch"},"order":{"value":null}}},
  {"data":{"name":"lines"},"transform":[{"filter":"datum.panel==2 && datum.series=='opt'"}],"mark":{"type":"line","color":"#FF0000","strokeWidth":3,"strokeDash":[11,7],"interpolate":"catmull-rom"},"encoding":{"x":{"field":"x","type":"quantitative"},"y":{"field":"y","type":"quantitative"},"order":{"value":null}}},
  {"data":{"name":"lines"},"transform":[{"filter":"datum.panel==2 && datum.series=='moon'"}],"mark":{"type":"line","color":"#FF00FF","strokeWidth":1.5,"strokeDash":[6,5],"interpolate":"catmull-rom"},"encoding":{"x":{"field":"x","type":"quantitative"},"y":{"field":"y","type":"quantitative"},"order":{"value":null}}},
  {"data":{"name":"points"},"transform":[{"filter":"datum.panel==2 && datum.kind=='earth'"}],"mark":{"type":"point","shape":"circle","filled":true,"color":"#0000FF","size":150,"opacity":1},"encoding":{"x":{"field":"x","type":"quantitative"},"y":{"field":"y","type":"quantitative"}}},
  {"data":{"name":"points"},"transform":[{"filter":"datum.panel==2 && datum.kind=='start'"}],"mark":{"type":"point","shape":"circle","filled":true,"color":"#FF0000","size":150,"opacity":1},"encoding":{"x":{"field":"x","type":"quantitative"},"y":{"field":"y","type":"quantitative"}}},
  {"data":{"name":"points"},"transform":[{"filter":"datum.panel==2 && datum.kind=='end'"}],"mark":{"type":"point","shape":"M-1,0L1,0M0,-1L0,1","filled":false,"color":"#00FF00","strokeWidth":1.6,"size":225,"opacity":1},"encoding":{"x":{"field":"x","type":"quantitative"},"y":{"field":"y","type":"quantitative"}}},
  {"data":{"values":[{}]},"mark":{"type":"text","text":"×10","align":"left","baseline":"alphabetic","dx":4,"dy":-5.5,"fontSize":19,"color":"#262626"},"encoding":{"x":{"datum":-4,"type":"quantitative"},"y":{"datum":4,"type":"quantitative"}}},
  {"data":{"values":[{}]},"mark":{"type":"text","text":"5","align":"left","baseline":"alphabetic","dx":37.5,"dy":-12.5,"fontSize":14.5,"color":"#262626"},"encoding":{"x":{"datum":-4,"type":"quantitative"},"y":{"datum":4,"type":"quantitative"}}},
  {"data":{"values":[{}]},"mark":{"type":"text","text":"×10","align":"right","baseline":"alphabetic","dx":-9,"dy":58.7,"fontSize":19,"color":"#262626"},"encoding":{"x":{"datum":2,"type":"quantitative"},"y":{"datum":-3,"type":"quantitative"}}},
  {"data":{"values":[{}]},"mark":{"type":"text","text":"5","align":"right","baseline":"alphabetic","dx":0,"dy":52,"fontSize":14.5,"color":"#262626"},"encoding":{"x":{"datum":2,"type":"quantitative"},"y":{"datum":-3,"type":"quantitative"}}}
 ]},
{"width":510,"height":388,"title":"Thrust: 2.0 N, ToF: 8.00 days",
 "layer":[
  {"data":{"name":"lines"},"transform":[{"filter":"datum.panel==3 && datum.series!='opt' && datum.series!='moon'"}],"mark":{"type":"line","strokeWidth":1,"interpolate":"catmull-rom"},"encoding":{
   "x":{"field":"x","type":"quantitative","scale":{"domain":[-4,4],"nice":false,"zero":false},"axis":{"values":[-4,-2,0,2,4],"title":"x (km)","labelExpr":"toString(datum.value)"}},
   "y":{"field":"y","type":"quantitative","scale":{"domain":[-5,4],"nice":false,"zero":false},"axis":{"values":[-5,-4,-3,-2,-1,0,1,2,3,4],"title":"y (km)","labelExpr":"toString(datum.value)"}},
   "color":{"field":"series","type":"nominal","scale":{"domain":["g1","g2","g3","g4","g5","g6","g7"],"range":["#0072BD","#D95319","#EDB120","#7E2F8E","#77AC30","#4DBEEE","#A2142F"]},"legend":null},"detail":{"field":"branch"},"order":{"value":null}}},
  {"data":{"name":"lines"},"transform":[{"filter":"datum.panel==3 && datum.series=='opt'"}],"mark":{"type":"line","color":"#FF0000","strokeWidth":3,"strokeDash":[11,7],"interpolate":"catmull-rom"},"encoding":{"x":{"field":"x","type":"quantitative"},"y":{"field":"y","type":"quantitative"},"order":{"value":null}}},
  {"data":{"name":"lines"},"transform":[{"filter":"datum.panel==3 && datum.series=='moon'"}],"mark":{"type":"line","color":"#FF00FF","strokeWidth":1.5,"strokeDash":[6,5],"interpolate":"catmull-rom"},"encoding":{"x":{"field":"x","type":"quantitative"},"y":{"field":"y","type":"quantitative"},"order":{"value":null}}},
  {"data":{"name":"points"},"transform":[{"filter":"datum.panel==3 && datum.kind=='earth'"}],"mark":{"type":"point","shape":"circle","filled":true,"color":"#0000FF","size":150,"opacity":1},"encoding":{"x":{"field":"x","type":"quantitative"},"y":{"field":"y","type":"quantitative"}}},
  {"data":{"name":"points"},"transform":[{"filter":"datum.panel==3 && datum.kind=='start'"}],"mark":{"type":"point","shape":"circle","filled":true,"color":"#FF0000","size":150,"opacity":1},"encoding":{"x":{"field":"x","type":"quantitative"},"y":{"field":"y","type":"quantitative"}}},
  {"data":{"name":"points"},"transform":[{"filter":"datum.panel==3 && datum.kind=='end'"}],"mark":{"type":"point","shape":"M-1,0L1,0M0,-1L0,1","filled":false,"color":"#00FF00","strokeWidth":1.6,"size":225,"opacity":1},"encoding":{"x":{"field":"x","type":"quantitative"},"y":{"field":"y","type":"quantitative"}}},
  {"data":{"values":[{}]},"mark":{"type":"text","text":"×10","align":"left","baseline":"alphabetic","dx":4,"dy":-5.5,"fontSize":19,"color":"#262626"},"encoding":{"x":{"datum":-4,"type":"quantitative"},"y":{"datum":4,"type":"quantitative"}}},
  {"data":{"values":[{}]},"mark":{"type":"text","text":"5","align":"left","baseline":"alphabetic","dx":37.5,"dy":-12.5,"fontSize":14.5,"color":"#262626"},"encoding":{"x":{"datum":-4,"type":"quantitative"},"y":{"datum":4,"type":"quantitative"}}},
  {"data":{"values":[{}]},"mark":{"type":"text","text":"×10","align":"right","baseline":"alphabetic","dx":-9,"dy":58.7,"fontSize":19,"color":"#262626"},"encoding":{"x":{"datum":4,"type":"quantitative"},"y":{"datum":-5,"type":"quantitative"}}},
  {"data":{"values":[{}]},"mark":{"type":"text","text":"5","align":"right","baseline":"alphabetic","dx":0,"dy":52,"fontSize":14.5,"color":"#262626"},"encoding":{"x":{"datum":4,"type":"quantitative"},"y":{"datum":-5,"type":"quantitative"}}}
 ]}
],
"config":{
 "font":"Liberation Sans",
 "view":{"stroke":null},
 "axis":{"grid":false,"domainColor":"#262626","tickColor":"#262626","labelColor":"#262626","titleColor":"#262626","labelFont":"Liberation Sans","titleFont":"Liberation Sans","labelFontSize":18.7,"titleFontSize":21.5,"titleFontWeight":"normal","tickSize":-5,"domainWidth":1,"tickWidth":1,"labelOverlap":false,"labelFlush":false},
 "axisX":{"labelPadding":19,"titlePadding":4},
 "axisY":{"labelPadding":13.4,"titlePadding":8},
 "title":{"font":"Liberation Sans","fontSize":22,"fontWeight":"bold","color":"#000000","offset":-22,"anchor":"middle"},
 "text":{"font":"Liberation Sans"}
}
}
